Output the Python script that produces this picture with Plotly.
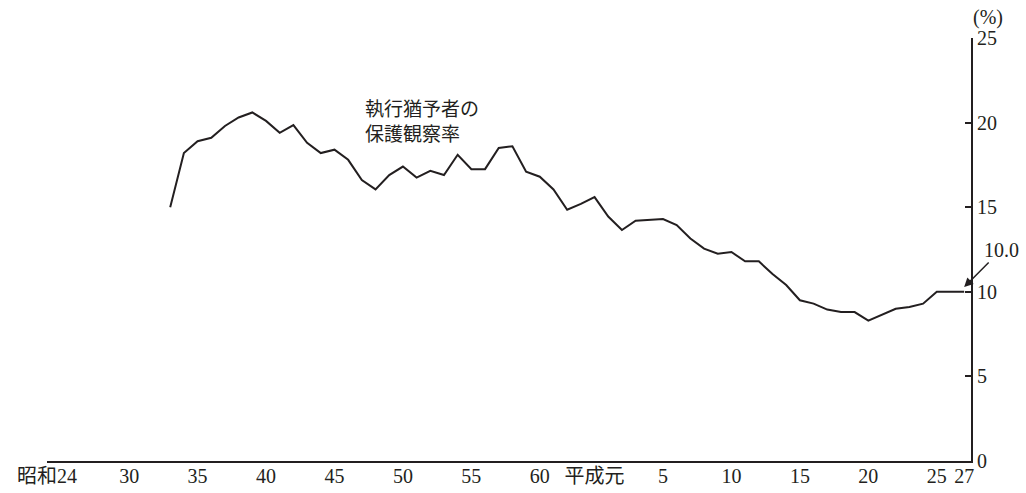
import plotly.graph_objects as go

# ---- categories (one slot per year; 昭和64 and 平成元 each get their own slot) ----
slot_labels = ([f"昭和{y}" for y in range(24, 65)]
               + ["平成元"]
               + [f"平成{n}" for n in range(2, 28)])

# ---- series: 執行猶予者の保護観察率 (%) from 昭和33 onward ----
start_slot = "昭和33"
rate = [15.0, 18.2, 18.9, 19.1, 19.8, 20.3, 20.6, 20.1, 19.4, 19.85,
        18.8, 18.2, 18.4, 17.8, 16.6, 16.05, 16.9, 17.4, 16.75, 17.15,
        16.9, 18.1, 17.25, 17.25, 18.5, 18.6, 17.1, 16.8, 16.05, 14.85,
        15.2, 15.6, 14.45, 13.65, 14.2, 14.25, 14.3, 13.95, 13.15, 12.55,
        12.25, 12.35, 11.8, 11.8, 11.05, 10.4, 9.5, 9.3, 8.95, 8.8,
        8.8, 8.3, 8.65, 9.0, 9.1, 9.3, 10.0, 10.0, 10.0]

# ---- tick labels ----
tick_slots = ["昭和24", "昭和30", "昭和35", "昭和40", "昭和45", "昭和50",
              "昭和55", "昭和60", "昭和64", "平成5", "平成10", "平成15",
              "平成20", "平成25", "平成27"]
tick_text = ["昭和24", "30", "35", "40", "45", "50", "55", "60", "平成元",
             "5", "10", "15", "20", "25", "27"]
y_ticks = [0, 5, 10, 15, 20, 25]
last_label = "10.0"

s0 = slot_labels.index(start_slot)
xs = list(range(s0, s0 + len(rate)))
tickvals = [slot_labels.index(s) for s in tick_slots]

INK = "#231f20"
FONT = "Liberation Serif, Noto Sans CJK JP, serif"

fig = go.Figure()
fig.add_trace(go.Scatter(x=xs, y=rate, mode="lines",
                         line=dict(color=INK, width=2),
                         hoverinfo="skip", showlegend=False))

fig.update_layout(
    width=1026, height=493,
    margin=dict(l=47, r=55, t=38, b=32, autoexpand=False),
    paper_bgcolor="white", plot_bgcolor="white",
    font=dict(family=FONT, size=20, color=INK),
    showlegend=False,
)
fig.update_xaxes(
    range=[0, len(slot_labels) - 0.5], automargin=False,
    showgrid=False, zeroline=False,
    showline=True, linecolor=INK, linewidth=2,
    tickmode="array", tickvals=tickvals, ticktext=tick_text,
    ticks="", ticklabelstandoff=-4,
    tickfont=dict(family=FONT, size=20, color=INK),
)
fig.update_yaxes(
    range=[0, 25], side="right", automargin=False,
    showgrid=False, zeroline=False,
    showline=True, linecolor=INK, linewidth=2,
    tickmode="array", tickvals=y_ticks,
    ticks="inside", ticklen=6, tickwidth=2, tickcolor=INK,
    tickfont=dict(family=FONT, size=20, color=INK),
)

# series label
fig.add_annotation(x=23.1, y=21.8, xref="x", yref="y",
                   text="執行猶予者の<br>保護観察率", showarrow=False,
                   xanchor="left", yanchor="top", align="left",
                   font=dict(family="Noto Sans CJK JP", size=19, color=INK))
# unit
fig.add_annotation(x=1, y=1, xref="paper", yref="paper", text="(%)",
                   showarrow=False, xanchor="left", yanchor="bottom",
                   xshift=0, yshift=7,
                   font=dict(family=FONT, size=20, color=INK))
# last value with arrow
fig.add_annotation(x=xs[-1], y=rate[-1] + 0.28, xref="x", yref="y",
                   text=last_label, showarrow=True,
                   arrowhead=2, arrowsize=1.2, arrowwidth=1.5, arrowcolor=INK,
                   ax=37, ay=-37, standoff=0,
                   font=dict(family=FONT, size=20, color=INK))

fig.write_html("out.html", config={"displayModeBar": False},
               post_script="document.body.style.margin='0';"
                           "document.body.style.padding='0';")
